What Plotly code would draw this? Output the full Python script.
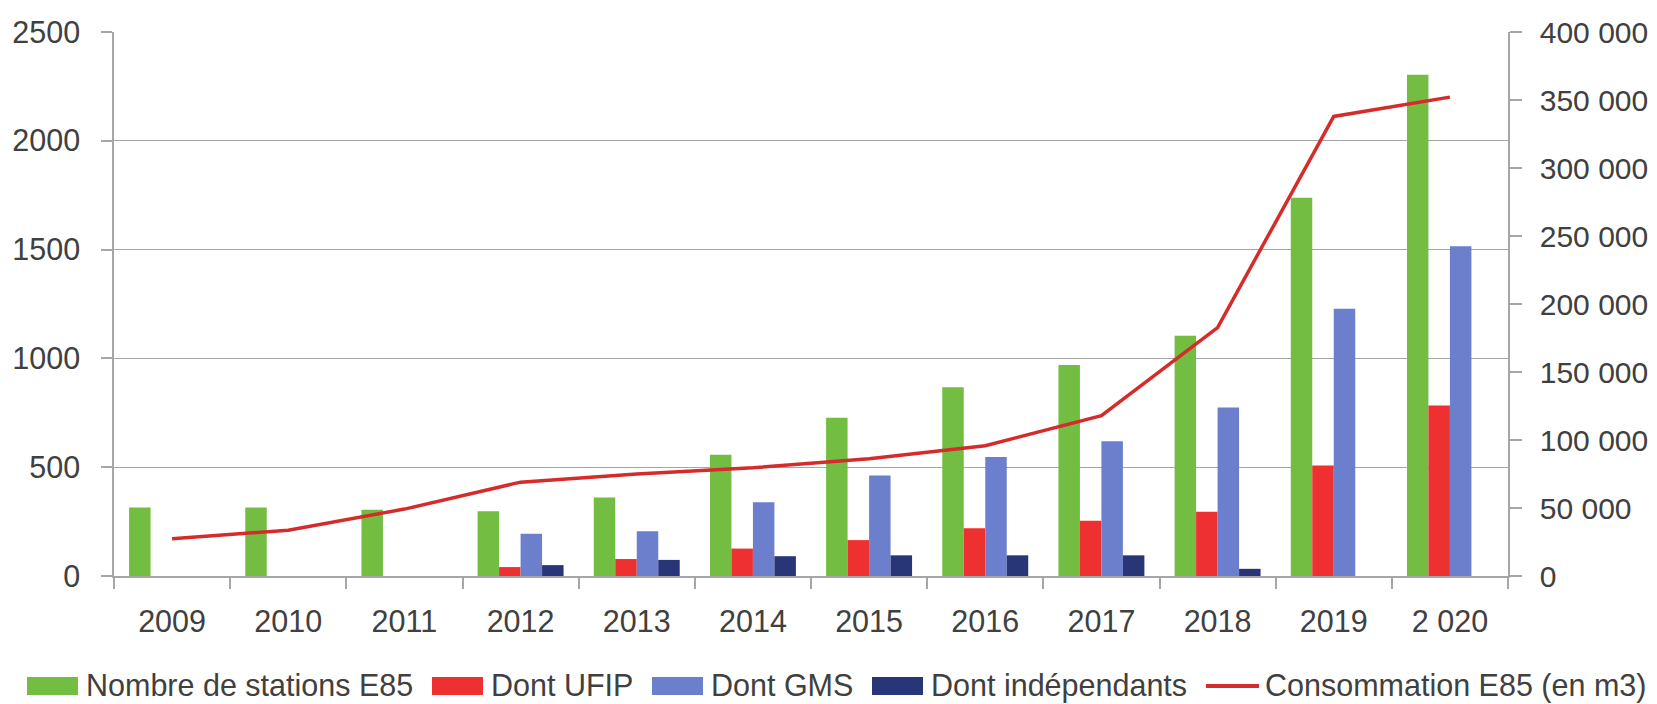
import plotly.graph_objects as go

years = ["2009", "2010", "2011", "2012", "2013", "2014", "2015", "2016", "2017", "2018", "2019", "2 020"]
stations_e85 = [315, 315, 305, 297, 361, 557, 727, 867, 970, 1104, 1738, 2304]
dont_ufip = [None, None, None, 41, 78, 126, 165, 219, 254, 295, 508, 784]
dont_gms = [None, None, None, 194, 206, 339, 462, 547, 619, 774, 1228, 1515]
dont_independants = [None, None, None, 50, 74, 91, 95, 95, 95, 33, None, None]
consommation_e85 = [27400, 33700, 49200, 69000, 75000, 79600, 86200, 95800, 117900, 182700, 337900, 352100]

series_names = ["Nombre de stations E85", "Dont UFIP", "Dont GMS", "Dont indépendants", "Consommation E85 (en m3)"]
series_colors = ["#73BD43", "#EE3030", "#6C7FCD", "#283678", "#D62B2B"]

FONT = "Liberation Sans, Arial, sans-serif"
TXT = "#404040"
GRID = "#A6A6A6"
FS = 30.5

# figure geometry (page is offset by the 8px body margin)
W, H = 1649, 696
ML, MR, MT, MB = 106, 149, 24, 128
PW, PH = W - ML - MR, H - MT - MB


def px(x_page):
    return (x_page - 8 - ML) / PW


def py(y_page):
    return (MT + PH - (y_page - 8)) / PH


fig = go.Figure()
bar_values = [stations_e85, dont_ufip, dont_gms, dont_independants]
for vals, name, col in zip(bar_values, series_names[:4], series_colors[:4]):
    fig.add_trace(go.Bar(x=years, y=vals, name=name, marker=dict(color=col, line=dict(width=0))))
fig.add_trace(go.Scatter(x=years, y=consommation_e85, name=series_names[4], mode="lines",
                         line=dict(color=series_colors[4], width=3.5), yaxis="y2"))

# legend drawn below the plot (wide swatches like the original)
leg_swatch_x = [27, 432, 652, 872, 1206]
leg_y = 686
shapes = []
annotations = []
for i, (name, col, sx) in enumerate(zip(series_names, series_colors, leg_swatch_x)):
    if i < 4:
        shapes.append(dict(type="rect", xref="paper", yref="paper",
                           x0=px(sx), x1=px(sx + 51), y0=py(leg_y + 9), y1=py(leg_y - 9),
                           fillcolor=col, line=dict(width=0)))
    else:
        shapes.append(dict(type="line", xref="paper", yref="paper",
                           x0=px(sx), x1=px(sx + 53), y0=py(leg_y), y1=py(leg_y),
                           line=dict(color=col, width=4)))
    annotations.append(dict(text=name, xref="paper", yref="paper", x=px(sx + 57), y=py(leg_y - 1),
                            xanchor="left", yanchor="middle", showarrow=False,
                            font=dict(size=FS, color=TXT, family=FONT)))

fig.update_layout(
    width=W, height=H,
    margin=dict(l=ML, r=MR, t=MT, b=MB, autoexpand=False),
    plot_bgcolor="white", paper_bgcolor="white",
    font=dict(family=FONT, size=FS, color=TXT),
    separators=". ",
    barmode="group", bargap=0.26, bargroupgap=0,
    showlegend=False,
    shapes=shapes,
    annotations=annotations,
    xaxis=dict(type="category", showline=True, linecolor=GRID, linewidth=1.5, automargin=False,
               ticks="outside", tickson="boundaries", ticklen=11, tickcolor=GRID, tickwidth=1.5,
               showgrid=False, tickfont=dict(size=FS, color=TXT), ticklabelstandoff=18),
    yaxis=dict(range=[0, 2500], dtick=500, showline=True, linecolor=GRID, linewidth=1.5, automargin=False,
               showgrid=True, gridcolor=GRID, gridwidth=1.3, zeroline=False,
               ticks="outside", ticklen=11, tickcolor=GRID, tickwidth=1.5,
               tickfont=dict(size=FS, color=TXT), ticklabelstandoff=15),
    yaxis2=dict(range=[0, 400000], dtick=50000, overlaying="y", side="right", automargin=False,
                tickformat=",d",
                showline=True, linecolor=GRID, linewidth=1.5, showgrid=False, zeroline=False,
                ticks="outside", ticklen=12, tickcolor=GRID, tickwidth=1.5,
                tickfont=dict(size=30, color=TXT), ticklabelstandoff=12),
)

fig.write_html("out.html")
